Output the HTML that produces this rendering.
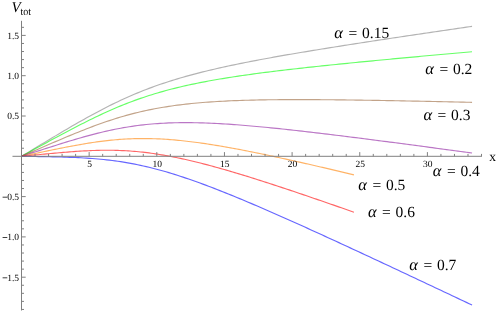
<!DOCTYPE html>
<html><head><meta charset="utf-8"><style>
html,body{margin:0;padding:0;background:#fff;}
svg{display:block;}
text{font-family:"Liberation Serif",serif;fill:#000;text-rendering:geometricPrecision;}
svg{will-change:transform;}
.tl{font-size:9.5px;}
.al{font-size:15.5px;}
</style></head><body>
<svg width="498" height="312" viewBox="0 0 498 312">
<rect width="498" height="312" fill="#fff"/>
<g>
<path d="M21.50 156.30 L24.33 154.59 L27.17 152.89 L30.00 151.18 L32.83 149.48 L35.67 147.77 L38.50 146.07 L41.34 144.36 L44.17 142.66 L47.00 140.96 L49.84 139.26 L52.67 137.57 L55.50 135.88 L58.34 134.19 L61.17 132.51 L64.00 130.84 L66.84 129.17 L69.67 127.52 L72.51 125.87 L75.34 124.23 L78.17 122.61 L81.01 120.99 L83.84 119.39 L86.67 117.81 L89.51 116.24 L92.34 114.69 L95.17 113.15 L98.01 111.64 L100.84 110.15 L103.68 108.67 L106.51 107.22 L109.34 105.79 L112.18 104.39 L115.01 103.01 L117.84 101.65 L120.68 100.32 L123.51 99.01 L126.34 97.73 L129.18 96.47 L132.01 95.24 L134.85 94.04 L137.68 92.86 L140.51 91.71 L143.35 90.58 L146.18 89.48 L149.01 88.40 L151.85 87.35 L154.68 86.32 L157.51 85.31 L160.35 84.33 L163.18 83.37 L166.02 82.43 L168.85 81.51 L171.68 80.61 L174.52 79.74 L177.35 78.88 L180.18 78.04 L183.02 77.22 L185.85 76.41 L188.68 75.62 L191.52 74.85 L194.35 74.10 L197.19 73.36 L200.02 72.63 L202.85 71.92 L205.69 71.22 L208.52 70.53 L211.35 69.85 L214.19 69.19 L217.02 68.54 L219.85 67.89 L222.69 67.26 L225.52 66.64 L228.36 66.03 L231.19 65.42 L234.02 64.83 L236.86 64.24 L239.69 63.66 L242.52 63.09 L245.36 62.52 L248.19 61.96 L251.02 61.41 L253.86 60.86 L256.69 60.32 L259.53 59.79 L262.36 59.26 L265.19 58.73 L268.03 58.21 L270.86 57.70 L273.69 57.19 L276.53 56.68 L279.36 56.18 L282.20 55.68 L285.03 55.19 L287.86 54.69 L290.70 54.21 L293.53 53.72 L296.36 53.24 L299.20 52.76 L302.03 52.29 L304.86 51.81 L307.70 51.34 L310.53 50.88 L313.37 50.41 L316.20 49.95 L319.03 49.49 L321.87 49.03 L324.70 48.57 L327.53 48.12 L330.37 47.67 L333.20 47.21 L336.03 46.77 L338.87 46.32 L341.70 45.87 L344.54 45.43 L347.37 44.98 L350.20 44.54 L353.04 44.10 L355.87 43.66 L358.70 43.23 L361.54 42.79 L364.37 42.35 L367.20 41.92 L370.04 41.49 L372.87 41.05 L375.71 40.62 L378.54 40.19 L381.37 39.76 L384.21 39.33 L387.04 38.91 L389.87 38.48 L392.71 38.05 L395.54 37.63 L398.37 37.20 L401.21 36.78 L404.04 36.36 L406.88 35.94 L409.71 35.51 L412.54 35.09 L415.38 34.67 L418.21 34.25 L421.04 33.83 L423.88 33.41 L426.71 33.00 L429.54 32.58 L432.38 32.16 L435.21 31.74 L438.05 31.33 L440.88 30.91 L443.71 30.50 L446.55 30.08 L449.38 29.67 L452.21 29.25 L455.05 28.84 L457.88 28.42 L460.71 28.01 L463.55 27.60 L466.38 27.18 L469.22 26.77 L472.05 26.36" stroke="#808080" fill="none" stroke-width="1.15" stroke-opacity="0.6"/>
<path d="M21.50 156.30 L24.33 154.75 L27.17 153.21 L30.00 151.66 L32.83 150.11 L35.67 148.57 L38.50 147.02 L41.34 145.48 L44.17 143.93 L47.00 142.39 L49.84 140.86 L52.67 139.32 L55.50 137.79 L58.34 136.26 L61.17 134.74 L64.00 133.23 L66.84 131.72 L69.67 130.23 L72.51 128.74 L75.34 127.26 L78.17 125.79 L81.01 124.34 L83.84 122.90 L86.67 121.47 L89.51 120.06 L92.34 118.67 L95.17 117.30 L98.01 115.94 L100.84 114.61 L103.68 113.29 L106.51 112.00 L109.34 110.73 L112.18 109.49 L115.01 108.27 L117.84 107.07 L120.68 105.89 L123.51 104.75 L126.34 103.63 L129.18 102.53 L132.01 101.46 L134.85 100.41 L137.68 99.39 L140.51 98.40 L143.35 97.43 L146.18 96.49 L149.01 95.57 L151.85 94.68 L154.68 93.81 L157.51 92.96 L160.35 92.14 L163.18 91.34 L166.02 90.56 L168.85 89.80 L171.68 89.06 L174.52 88.34 L177.35 87.64 L180.18 86.96 L183.02 86.30 L185.85 85.65 L188.68 85.03 L191.52 84.41 L194.35 83.82 L197.19 83.24 L200.02 82.67 L202.85 82.11 L205.69 81.57 L208.52 81.05 L211.35 80.53 L214.19 80.03 L217.02 79.53 L219.85 79.05 L222.69 78.58 L225.52 78.11 L228.36 77.66 L231.19 77.21 L234.02 76.78 L236.86 76.35 L239.69 75.93 L242.52 75.52 L245.36 75.11 L248.19 74.71 L251.02 74.32 L253.86 73.93 L256.69 73.55 L259.53 73.17 L262.36 72.80 L265.19 72.44 L268.03 72.08 L270.86 71.72 L273.69 71.37 L276.53 71.02 L279.36 70.68 L282.20 70.34 L285.03 70.01 L287.86 69.67 L290.70 69.35 L293.53 69.02 L296.36 68.70 L299.20 68.38 L302.03 68.06 L304.86 67.75 L307.70 67.44 L310.53 67.13 L313.37 66.82 L316.20 66.52 L319.03 66.22 L321.87 65.92 L324.70 65.62 L327.53 65.33 L330.37 65.03 L333.20 64.74 L336.03 64.45 L338.87 64.16 L341.70 63.88 L344.54 63.59 L347.37 63.31 L350.20 63.03 L353.04 62.75 L355.87 62.47 L358.70 62.19 L361.54 61.91 L364.37 61.63 L367.20 61.36 L370.04 61.09 L372.87 60.81 L375.71 60.54 L378.54 60.27 L381.37 60.00 L384.21 59.73 L387.04 59.46 L389.87 59.20 L392.71 58.93 L395.54 58.66 L398.37 58.40 L401.21 58.13 L404.04 57.87 L406.88 57.61 L409.71 57.34 L412.54 57.08 L415.38 56.82 L418.21 56.56 L421.04 56.30 L423.88 56.04 L426.71 55.78 L429.54 55.52 L432.38 55.27 L435.21 55.01 L438.05 54.75 L440.88 54.49 L443.71 54.24 L446.55 53.98 L449.38 53.73 L452.21 53.47 L455.05 53.22 L457.88 52.96 L460.71 52.71 L463.55 52.46 L466.38 52.20 L469.22 51.95 L472.05 51.70" stroke="#00ff00" fill="none" stroke-width="1.15" stroke-opacity="0.6"/>
<path d="M21.50 156.30 L24.33 155.07 L27.17 153.84 L30.00 152.62 L32.83 151.39 L35.67 150.16 L38.50 148.93 L41.34 147.71 L44.17 146.48 L47.00 145.26 L49.84 144.04 L52.67 142.83 L55.50 141.61 L58.34 140.41 L61.17 139.21 L64.00 138.01 L66.84 136.82 L69.67 135.64 L72.51 134.47 L75.34 133.31 L78.17 132.17 L81.01 131.03 L83.84 129.91 L86.67 128.80 L89.51 127.71 L92.34 126.64 L95.17 125.58 L98.01 124.55 L100.84 123.53 L103.68 122.54 L106.51 121.56 L109.34 120.61 L112.18 119.69 L115.01 118.78 L117.84 117.90 L120.68 117.05 L123.51 116.22 L126.34 115.42 L129.18 114.64 L132.01 113.89 L134.85 113.16 L137.68 112.46 L140.51 111.79 L143.35 111.14 L146.18 110.51 L149.01 109.91 L151.85 109.34 L154.68 108.79 L157.51 108.26 L160.35 107.75 L163.18 107.27 L166.02 106.81 L168.85 106.37 L171.68 105.95 L174.52 105.55 L177.35 105.17 L180.18 104.81 L183.02 104.47 L185.85 104.14 L188.68 103.83 L191.52 103.54 L194.35 103.26 L197.19 103.00 L200.02 102.75 L202.85 102.51 L205.69 102.29 L208.52 102.08 L211.35 101.88 L214.19 101.70 L217.02 101.52 L219.85 101.36 L222.69 101.20 L225.52 101.06 L228.36 100.92 L231.19 100.80 L234.02 100.68 L236.86 100.57 L239.69 100.47 L242.52 100.37 L245.36 100.29 L248.19 100.21 L251.02 100.13 L253.86 100.06 L256.69 100.00 L259.53 99.94 L262.36 99.89 L265.19 99.85 L268.03 99.80 L270.86 99.77 L273.69 99.73 L276.53 99.71 L279.36 99.68 L282.20 99.66 L285.03 99.64 L287.86 99.63 L290.70 99.62 L293.53 99.62 L296.36 99.61 L299.20 99.61 L302.03 99.61 L304.86 99.62 L307.70 99.63 L310.53 99.64 L313.37 99.65 L316.20 99.67 L319.03 99.68 L321.87 99.70 L324.70 99.72 L327.53 99.75 L330.37 99.77 L333.20 99.80 L336.03 99.83 L338.87 99.86 L341.70 99.89 L344.54 99.92 L347.37 99.96 L350.20 100.00 L353.04 100.03 L355.87 100.07 L358.70 100.11 L361.54 100.16 L364.37 100.20 L367.20 100.24 L370.04 100.29 L372.87 100.33 L375.71 100.38 L378.54 100.43 L381.37 100.48 L384.21 100.53 L387.04 100.58 L389.87 100.63 L392.71 100.68 L395.54 100.73 L398.37 100.79 L401.21 100.84 L404.04 100.89 L406.88 100.95 L409.71 101.01 L412.54 101.06 L415.38 101.12 L418.21 101.18 L421.04 101.24 L423.88 101.30 L426.71 101.36 L429.54 101.42 L432.38 101.48 L435.21 101.54 L438.05 101.60 L440.88 101.66 L443.71 101.73 L446.55 101.79 L449.38 101.85 L452.21 101.92 L455.05 101.98 L457.88 102.04 L460.71 102.11 L463.55 102.17 L466.38 102.24 L469.22 102.30 L472.05 102.37" stroke="#99663a" fill="none" stroke-width="1.15" stroke-opacity="0.6"/>
<path d="M21.50 156.30 L24.33 155.39 L27.17 154.48 L30.00 153.57 L32.83 152.66 L35.67 151.75 L38.50 150.85 L41.34 149.94 L44.17 149.03 L47.00 148.13 L49.84 147.23 L52.67 146.33 L55.50 145.44 L58.34 144.55 L61.17 143.67 L64.00 142.79 L66.84 141.92 L69.67 141.06 L72.51 140.21 L75.34 139.37 L78.17 138.54 L81.01 137.72 L83.84 136.92 L86.67 136.13 L89.51 135.36 L92.34 134.61 L95.17 133.87 L98.01 133.15 L100.84 132.46 L103.68 131.78 L106.51 131.12 L109.34 130.49 L112.18 129.88 L115.01 129.30 L117.84 128.74 L120.68 128.20 L123.51 127.69 L126.34 127.21 L129.18 126.75 L132.01 126.32 L134.85 125.91 L137.68 125.53 L140.51 125.17 L143.35 124.84 L146.18 124.54 L149.01 124.25 L151.85 124.00 L154.68 123.77 L157.51 123.56 L160.35 123.37 L163.18 123.21 L166.02 123.06 L168.85 122.94 L171.68 122.84 L174.52 122.76 L177.35 122.70 L180.18 122.66 L183.02 122.63 L185.85 122.62 L188.68 122.63 L191.52 122.66 L194.35 122.70 L197.19 122.76 L200.02 122.82 L202.85 122.91 L205.69 123.01 L208.52 123.11 L211.35 123.24 L214.19 123.37 L217.02 123.51 L219.85 123.67 L222.69 123.83 L225.52 124.01 L228.36 124.19 L231.19 124.38 L234.02 124.58 L236.86 124.79 L239.69 125.01 L242.52 125.23 L245.36 125.46 L248.19 125.70 L251.02 125.95 L253.86 126.20 L256.69 126.45 L259.53 126.71 L262.36 126.98 L265.19 127.25 L268.03 127.53 L270.86 127.81 L273.69 128.10 L276.53 128.39 L279.36 128.68 L282.20 128.98 L285.03 129.28 L287.86 129.59 L290.70 129.90 L293.53 130.21 L296.36 130.53 L299.20 130.84 L302.03 131.17 L304.86 131.49 L307.70 131.82 L310.53 132.15 L313.37 132.48 L316.20 132.81 L319.03 133.15 L321.87 133.49 L324.70 133.83 L327.53 134.17 L330.37 134.51 L333.20 134.86 L336.03 135.20 L338.87 135.55 L341.70 135.90 L344.54 136.26 L347.37 136.61 L350.20 136.97 L353.04 137.32 L355.87 137.68 L358.70 138.04 L361.54 138.40 L364.37 138.76 L367.20 139.12 L370.04 139.49 L372.87 139.85 L375.71 140.22 L378.54 140.58 L381.37 140.95 L384.21 141.32 L387.04 141.69 L389.87 142.06 L392.71 142.43 L395.54 142.80 L398.37 143.17 L401.21 143.55 L404.04 143.92 L406.88 144.29 L409.71 144.67 L412.54 145.04 L415.38 145.42 L418.21 145.80 L421.04 146.17 L423.88 146.55 L426.71 146.93 L429.54 147.31 L432.38 147.69 L435.21 148.07 L438.05 148.45 L440.88 148.83 L443.71 149.21 L446.55 149.59 L449.38 149.98 L452.21 150.36 L455.05 150.74 L457.88 151.12 L460.71 151.51 L463.55 151.89 L466.38 152.27 L469.22 152.66 L472.05 153.04" stroke="#8c1a9e" fill="none" stroke-width="1.15" stroke-opacity="0.6"/>
<path d="M21.50 156.30 L23.59 155.86 L25.68 155.43 L27.77 154.99 L29.86 154.56 L31.95 154.12 L34.04 153.69 L36.14 153.25 L38.23 152.82 L40.32 152.38 L42.41 151.95 L44.50 151.52 L46.59 151.08 L48.68 150.65 L50.77 150.23 L52.86 149.80 L54.95 149.38 L57.04 148.95 L59.13 148.53 L61.22 148.12 L63.32 147.71 L65.41 147.30 L67.50 146.89 L69.59 146.50 L71.68 146.10 L73.77 145.71 L75.86 145.33 L77.95 144.95 L80.04 144.58 L82.13 144.22 L84.22 143.87 L86.31 143.52 L88.40 143.18 L90.50 142.86 L92.59 142.54 L94.68 142.23 L96.77 141.93 L98.86 141.64 L100.95 141.37 L103.04 141.10 L105.13 140.85 L107.22 140.60 L109.31 140.38 L111.40 140.16 L113.49 139.96 L115.58 139.77 L117.68 139.59 L119.77 139.43 L121.86 139.28 L123.95 139.14 L126.04 139.02 L128.13 138.91 L130.22 138.82 L132.31 138.74 L134.40 138.67 L136.49 138.62 L138.58 138.58 L140.67 138.56 L142.76 138.55 L144.86 138.55 L146.95 138.57 L149.04 138.60 L151.13 138.64 L153.22 138.70 L155.31 138.77 L157.40 138.85 L159.49 138.94 L161.58 139.05 L163.67 139.17 L165.76 139.30 L167.85 139.44 L169.94 139.60 L172.04 139.76 L174.13 139.94 L176.22 140.12 L178.31 140.32 L180.40 140.53 L182.49 140.74 L184.58 140.97 L186.67 141.20 L188.76 141.45 L190.85 141.70 L192.94 141.96 L195.03 142.23 L197.12 142.51 L199.22 142.79 L201.31 143.08 L203.40 143.38 L205.49 143.69 L207.58 144.01 L209.67 144.33 L211.76 144.65 L213.85 144.99 L215.94 145.33 L218.03 145.67 L220.12 146.02 L222.21 146.38 L224.30 146.74 L226.40 147.11 L228.49 147.48 L230.58 147.86 L232.67 148.24 L234.76 148.62 L236.85 149.01 L238.94 149.41 L241.03 149.80 L243.12 150.21 L245.21 150.61 L247.30 151.02 L249.39 151.44 L251.48 151.85 L253.58 152.27 L255.67 152.70 L257.76 153.12 L259.85 153.55 L261.94 153.98 L264.03 154.42 L266.12 154.86 L268.21 155.30 L270.30 155.74 L272.39 156.18 L274.48 156.63 L276.57 157.08 L278.66 157.53 L280.76 157.99 L282.85 158.44 L284.94 158.90 L287.03 159.36 L289.12 159.83 L291.21 160.29 L293.30 160.75 L295.39 161.22 L297.48 161.69 L299.57 162.16 L301.66 162.63 L303.75 163.11 L305.84 163.58 L307.94 164.06 L310.03 164.54 L312.12 165.02 L314.21 165.50 L316.30 165.98 L318.39 166.46 L320.48 166.95 L322.57 167.43 L324.66 167.92 L326.75 168.40 L328.84 168.89 L330.93 169.38 L333.02 169.87 L335.12 170.36 L337.21 170.86 L339.30 171.35 L341.39 171.84 L343.48 172.34 L345.57 172.83 L347.66 173.33 L349.75 173.83 L351.84 174.33 L353.93 174.82" stroke="#ff8000" fill="none" stroke-width="1.15" stroke-opacity="0.6"/>
<path d="M21.50 156.30 L23.59 156.10 L25.68 155.90 L27.77 155.70 L29.86 155.50 L31.95 155.30 L34.04 155.10 L36.14 154.90 L38.23 154.70 L40.32 154.50 L42.41 154.30 L44.50 154.10 L46.59 153.91 L48.68 153.71 L50.77 153.52 L52.86 153.33 L54.95 153.14 L57.04 152.95 L59.13 152.77 L61.22 152.59 L63.32 152.41 L65.41 152.24 L67.50 152.07 L69.59 151.90 L71.68 151.74 L73.77 151.59 L75.86 151.44 L77.95 151.30 L80.04 151.17 L82.13 151.04 L84.22 150.92 L86.31 150.81 L88.40 150.71 L90.50 150.62 L92.59 150.53 L94.68 150.46 L96.77 150.40 L98.86 150.34 L100.95 150.30 L103.04 150.27 L105.13 150.25 L107.22 150.25 L109.31 150.25 L111.40 150.27 L113.49 150.30 L115.58 150.35 L117.68 150.41 L119.77 150.48 L121.86 150.56 L123.95 150.66 L126.04 150.78 L128.13 150.90 L130.22 151.04 L132.31 151.20 L134.40 151.37 L136.49 151.55 L138.58 151.75 L140.67 151.96 L142.76 152.18 L144.86 152.42 L146.95 152.68 L149.04 152.94 L151.13 153.22 L153.22 153.51 L155.31 153.82 L157.40 154.13 L159.49 154.46 L161.58 154.81 L163.67 155.16 L165.76 155.53 L167.85 155.90 L169.94 156.29 L172.04 156.69 L174.13 157.10 L176.22 157.52 L178.31 157.96 L180.40 158.40 L182.49 158.85 L184.58 159.31 L186.67 159.78 L188.76 160.26 L190.85 160.75 L192.94 161.24 L195.03 161.75 L197.12 162.26 L199.22 162.78 L201.31 163.31 L203.40 163.84 L205.49 164.38 L207.58 164.93 L209.67 165.49 L211.76 166.05 L213.85 166.62 L215.94 167.19 L218.03 167.78 L220.12 168.36 L222.21 168.95 L224.30 169.55 L226.40 170.15 L228.49 170.76 L230.58 171.37 L232.67 171.99 L234.76 172.61 L236.85 173.23 L238.94 173.86 L241.03 174.50 L243.12 175.13 L245.21 175.77 L247.30 176.42 L249.39 177.07 L251.48 177.72 L253.58 178.37 L255.67 179.03 L257.76 179.69 L259.85 180.36 L261.94 181.03 L264.03 181.70 L266.12 182.37 L268.21 183.04 L270.30 183.72 L272.39 184.40 L274.48 185.09 L276.57 185.77 L278.66 186.46 L280.76 187.15 L282.85 187.84 L284.94 188.53 L287.03 189.23 L289.12 189.92 L291.21 190.62 L293.30 191.32 L295.39 192.03 L297.48 192.73 L299.57 193.44 L301.66 194.14 L303.75 194.85 L305.84 195.56 L307.94 196.28 L310.03 196.99 L312.12 197.70 L314.21 198.42 L316.30 199.14 L318.39 199.85 L320.48 200.57 L322.57 201.29 L324.66 202.01 L326.75 202.74 L328.84 203.46 L330.93 204.18 L333.02 204.91 L335.12 205.64 L337.21 206.36 L339.30 207.09 L341.39 207.82 L343.48 208.55 L345.57 209.28 L347.66 210.01 L349.75 210.75 L351.84 211.48 L353.93 212.21" stroke="#ff0000" fill="none" stroke-width="1.15" stroke-opacity="0.6"/>
<path d="M21.50 156.30 L24.33 156.35 L27.17 156.39 L30.00 156.44 L32.83 156.49 L35.67 156.53 L38.50 156.58 L41.34 156.63 L44.17 156.68 L47.00 156.74 L49.84 156.79 L52.67 156.85 L55.50 156.91 L58.34 156.98 L61.17 157.05 L64.00 157.13 L66.84 157.22 L69.67 157.32 L72.51 157.42 L75.34 157.54 L78.17 157.66 L81.01 157.80 L83.84 157.96 L86.67 158.12 L89.51 158.31 L92.34 158.51 L95.17 158.73 L98.01 158.97 L100.84 159.23 L103.68 159.51 L106.51 159.81 L109.34 160.13 L112.18 160.48 L115.01 160.85 L117.84 161.25 L120.68 161.67 L123.51 162.11 L126.34 162.59 L129.18 163.08 L132.01 163.61 L134.85 164.15 L137.68 164.73 L140.51 165.33 L143.35 165.95 L146.18 166.60 L149.01 167.28 L151.85 167.98 L154.68 168.70 L157.51 169.45 L160.35 170.22 L163.18 171.01 L166.02 171.82 L168.85 172.66 L171.68 173.52 L174.52 174.39 L177.35 175.29 L180.18 176.20 L183.02 177.13 L185.85 178.08 L188.68 179.04 L191.52 180.02 L194.35 181.02 L197.19 182.03 L200.02 183.06 L202.85 184.10 L205.69 185.15 L208.52 186.22 L211.35 187.30 L214.19 188.38 L217.02 189.48 L219.85 190.59 L222.69 191.72 L225.52 192.85 L228.36 193.99 L231.19 195.13 L234.02 196.29 L236.86 197.46 L239.69 198.63 L242.52 199.81 L245.36 201.00 L248.19 202.19 L251.02 203.39 L253.86 204.60 L256.69 205.81 L259.53 207.03 L262.36 208.25 L265.19 209.48 L268.03 210.71 L270.86 211.95 L273.69 213.19 L276.53 214.44 L279.36 215.69 L282.20 216.94 L285.03 218.20 L287.86 219.46 L290.70 220.73 L293.53 222.00 L296.36 223.27 L299.20 224.54 L302.03 225.82 L304.86 227.10 L307.70 228.38 L310.53 229.67 L313.37 230.96 L316.20 232.25 L319.03 233.54 L321.87 234.83 L324.70 236.13 L327.53 237.43 L330.37 238.73 L333.20 240.03 L336.03 241.33 L338.87 242.64 L341.70 243.94 L344.54 245.25 L347.37 246.56 L350.20 247.87 L353.04 249.19 L355.87 250.50 L358.70 251.82 L361.54 253.13 L364.37 254.45 L367.20 255.77 L370.04 257.09 L372.87 258.41 L375.71 259.73 L378.54 261.05 L381.37 262.38 L384.21 263.70 L387.04 265.03 L389.87 266.35 L392.71 267.68 L395.54 269.01 L398.37 270.33 L401.21 271.66 L404.04 272.99 L406.88 274.32 L409.71 275.66 L412.54 276.99 L415.38 278.32 L418.21 279.65 L421.04 280.99 L423.88 282.32 L426.71 283.65 L429.54 284.99 L432.38 286.32 L435.21 287.66 L438.05 289.00 L440.88 290.33 L443.71 291.67 L446.55 293.01 L449.38 294.35 L452.21 295.69 L455.05 297.02 L457.88 298.36 L460.71 299.70 L463.55 301.04 L466.38 302.38 L469.22 303.72 L472.05 305.06" stroke="#0000ff" fill="none" stroke-width="1.15" stroke-opacity="0.6"/>
</g>
<g stroke="#808080" stroke-width="1.0" fill="none">
<line x1="12.48" y1="156.30" x2="481.92" y2="156.30"/>
<line x1="21.50" y1="20.8" x2="21.50" y2="310.5"/>
<line x1="35.03" y1="156.30" x2="35.03" y2="153.90"/>
<line x1="48.56" y1="156.30" x2="48.56" y2="153.90"/>
<line x1="62.09" y1="156.30" x2="62.09" y2="153.90"/>
<line x1="75.62" y1="156.30" x2="75.62" y2="153.90"/>
<line x1="89.15" y1="156.30" x2="89.15" y2="152.10"/>
<line x1="102.68" y1="156.30" x2="102.68" y2="153.90"/>
<line x1="116.21" y1="156.30" x2="116.21" y2="153.90"/>
<line x1="129.74" y1="156.30" x2="129.74" y2="153.90"/>
<line x1="143.27" y1="156.30" x2="143.27" y2="153.90"/>
<line x1="156.80" y1="156.30" x2="156.80" y2="152.10"/>
<line x1="170.33" y1="156.30" x2="170.33" y2="153.90"/>
<line x1="183.86" y1="156.30" x2="183.86" y2="153.90"/>
<line x1="197.39" y1="156.30" x2="197.39" y2="153.90"/>
<line x1="210.92" y1="156.30" x2="210.92" y2="153.90"/>
<line x1="224.45" y1="156.30" x2="224.45" y2="152.10"/>
<line x1="237.98" y1="156.30" x2="237.98" y2="153.90"/>
<line x1="251.51" y1="156.30" x2="251.51" y2="153.90"/>
<line x1="265.04" y1="156.30" x2="265.04" y2="153.90"/>
<line x1="278.57" y1="156.30" x2="278.57" y2="153.90"/>
<line x1="292.10" y1="156.30" x2="292.10" y2="152.10"/>
<line x1="305.63" y1="156.30" x2="305.63" y2="153.90"/>
<line x1="319.16" y1="156.30" x2="319.16" y2="153.90"/>
<line x1="332.69" y1="156.30" x2="332.69" y2="153.90"/>
<line x1="346.22" y1="156.30" x2="346.22" y2="153.90"/>
<line x1="359.75" y1="156.30" x2="359.75" y2="152.10"/>
<line x1="373.28" y1="156.30" x2="373.28" y2="153.90"/>
<line x1="386.81" y1="156.30" x2="386.81" y2="153.90"/>
<line x1="400.34" y1="156.30" x2="400.34" y2="153.90"/>
<line x1="413.87" y1="156.30" x2="413.87" y2="153.90"/>
<line x1="427.40" y1="156.30" x2="427.40" y2="152.10"/>
<line x1="440.93" y1="156.30" x2="440.93" y2="153.90"/>
<line x1="454.46" y1="156.30" x2="454.46" y2="153.90"/>
<line x1="467.99" y1="156.30" x2="467.99" y2="153.90"/>
<line x1="481.52" y1="156.30" x2="481.52" y2="153.90"/>
<line x1="21.50" y1="309.44" x2="24.00" y2="309.44"/>
<line x1="21.50" y1="301.38" x2="24.00" y2="301.38"/>
<line x1="21.50" y1="293.32" x2="24.00" y2="293.32"/>
<line x1="21.50" y1="285.26" x2="24.00" y2="285.26"/>
<line x1="21.50" y1="277.20" x2="25.70" y2="277.20"/>
<line x1="21.50" y1="269.14" x2="24.00" y2="269.14"/>
<line x1="21.50" y1="261.08" x2="24.00" y2="261.08"/>
<line x1="21.50" y1="253.02" x2="24.00" y2="253.02"/>
<line x1="21.50" y1="244.96" x2="24.00" y2="244.96"/>
<line x1="21.50" y1="236.90" x2="25.70" y2="236.90"/>
<line x1="21.50" y1="228.84" x2="24.00" y2="228.84"/>
<line x1="21.50" y1="220.78" x2="24.00" y2="220.78"/>
<line x1="21.50" y1="212.72" x2="24.00" y2="212.72"/>
<line x1="21.50" y1="204.66" x2="24.00" y2="204.66"/>
<line x1="21.50" y1="196.60" x2="25.70" y2="196.60"/>
<line x1="21.50" y1="188.54" x2="24.00" y2="188.54"/>
<line x1="21.50" y1="180.48" x2="24.00" y2="180.48"/>
<line x1="21.50" y1="172.42" x2="24.00" y2="172.42"/>
<line x1="21.50" y1="164.36" x2="24.00" y2="164.36"/>
<line x1="21.50" y1="148.24" x2="24.00" y2="148.24"/>
<line x1="21.50" y1="140.18" x2="24.00" y2="140.18"/>
<line x1="21.50" y1="132.12" x2="24.00" y2="132.12"/>
<line x1="21.50" y1="124.06" x2="24.00" y2="124.06"/>
<line x1="21.50" y1="116.00" x2="25.70" y2="116.00"/>
<line x1="21.50" y1="107.94" x2="24.00" y2="107.94"/>
<line x1="21.50" y1="99.88" x2="24.00" y2="99.88"/>
<line x1="21.50" y1="91.82" x2="24.00" y2="91.82"/>
<line x1="21.50" y1="83.76" x2="24.00" y2="83.76"/>
<line x1="21.50" y1="75.70" x2="25.70" y2="75.70"/>
<line x1="21.50" y1="67.64" x2="24.00" y2="67.64"/>
<line x1="21.50" y1="59.58" x2="24.00" y2="59.58"/>
<line x1="21.50" y1="51.52" x2="24.00" y2="51.52"/>
<line x1="21.50" y1="43.46" x2="24.00" y2="43.46"/>
<line x1="21.50" y1="35.40" x2="25.70" y2="35.40"/>
<line x1="21.50" y1="27.34" x2="24.00" y2="27.34"/>
</g>
<g>
<text x="89.55" y="166.70" text-anchor="middle" class="tl">5</text>
<text x="157.20" y="166.70" text-anchor="middle" class="tl">10</text>
<text x="224.85" y="166.70" text-anchor="middle" class="tl">15</text>
<text x="292.50" y="166.70" text-anchor="middle" class="tl">20</text>
<text x="360.15" y="166.70" text-anchor="middle" class="tl">25</text>
<text x="427.80" y="166.70" text-anchor="middle" class="tl">30</text>
<text x="19.10" y="38.80" text-anchor="end" class="tl">1.5</text>
<text x="19.10" y="79.10" text-anchor="end" class="tl">1.0</text>
<text x="19.10" y="119.40" text-anchor="end" class="tl">0.5</text>
<text x="19.10" y="200.00" text-anchor="end" class="tl">0.5</text>
<line x1="2.6" x2="7.3" y1="197.20" y2="197.20" stroke="#000" stroke-width="0.75"/>
<text x="19.10" y="240.30" text-anchor="end" class="tl">1.0</text>
<line x1="2.6" x2="7.3" y1="237.50" y2="237.50" stroke="#000" stroke-width="0.75"/>
<text x="19.10" y="280.60" text-anchor="end" class="tl">1.5</text>
<line x1="2.6" x2="7.3" y1="277.80" y2="277.80" stroke="#000" stroke-width="0.75"/>
<text x="334.30" y="37.60" class="al" style="font-style:italic;font-size:16.5px">α</text><text x="348.50" y="37.60" class="al">=</text><text x="362.00" y="37.60" class="al">0.15</text>
<text x="425.20" y="74.30" class="al" style="font-style:italic;font-size:16.5px">α</text><text x="439.40" y="74.30" class="al">=</text><text x="452.90" y="74.30" class="al">0.2</text>
<text x="423.40" y="119.80" class="al" style="font-style:italic;font-size:16.5px">α</text><text x="437.60" y="119.80" class="al">=</text><text x="451.10" y="119.80" class="al">0.3</text>
<text x="432.70" y="175.60" class="al" style="font-style:italic;font-size:16.5px">α</text><text x="446.90" y="175.60" class="al">=</text><text x="460.40" y="175.60" class="al">0.4</text>
<text x="358.20" y="189.60" class="al" style="font-style:italic;font-size:16.5px">α</text><text x="372.40" y="189.60" class="al">=</text><text x="385.90" y="189.60" class="al">0.5</text>
<text x="367.90" y="217.00" class="al" style="font-style:italic;font-size:16.5px">α</text><text x="382.10" y="217.00" class="al">=</text><text x="395.60" y="217.00" class="al">0.6</text>
<text x="409.20" y="270.40" class="al" style="font-style:italic;font-size:16.5px">α</text><text x="423.40" y="270.40" class="al">=</text><text x="436.90" y="270.40" class="al">0.7</text>
<text x="11.5" y="11.8" font-size="15" font-style="italic">V</text>
<text x="20.5" y="14.6" font-size="11" textLength="10.6" lengthAdjust="spacingAndGlyphs">tot</text>
<text x="489.3" y="161" font-size="13.5">x</text>
</g>
</svg>
</body></html>
